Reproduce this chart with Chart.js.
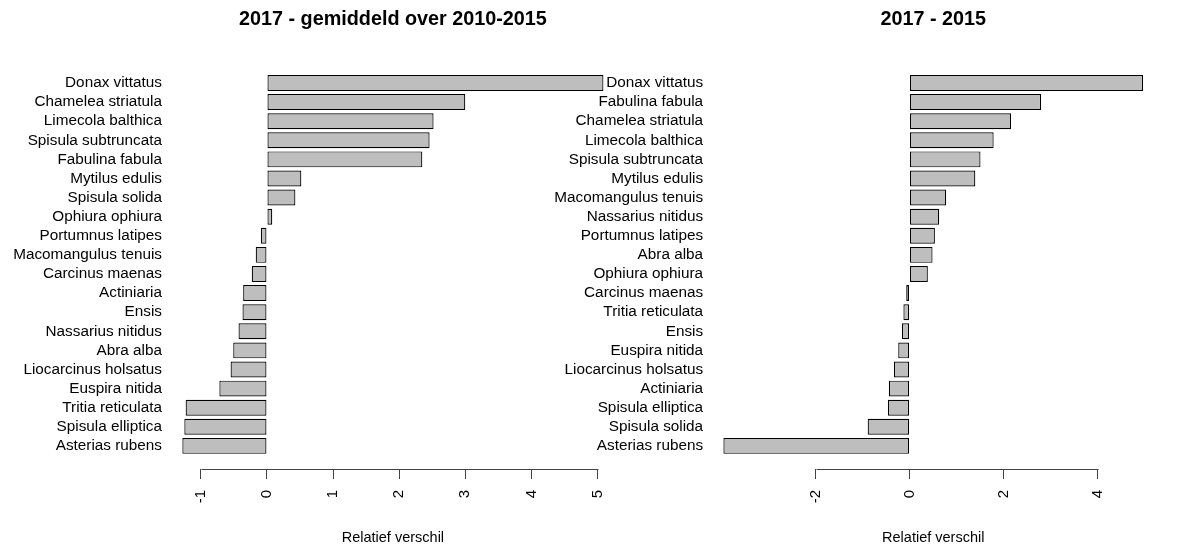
<!DOCTYPE html>
<html>
<head>
<meta charset="utf-8">
<script src="https://cdn.jsdelivr.net/npm/chart.js@4.4.1/dist/chart.umd.min.js"></script>
<style>
  html, body { margin: 0; background: #fff; }
  #wrap { position: relative; width: 1182px; height: 549px; }
  #wrap canvas { position: absolute; left: 0; top: 0; }
</style>
</head>
<body>
<div id="wrap">
  <canvas id="left" width="1182" height="549"></canvas>
  <canvas id="right" width="1182" height="549"></canvas>
</div>
<script>
// left panel: 2017 vs mean 2010-2015 (top to bottom)
const leftSpecies = [
  'Donax vittatus', 'Chamelea striatula', 'Limecola balthica', 'Spisula subtruncata',
  'Fabulina fabula', 'Mytilus edulis', 'Spisula solida', 'Ophiura ophiura',
  'Portumnus latipes', 'Macomangulus tenuis', 'Carcinus maenas', 'Actiniaria',
  'Ensis', 'Nassarius nitidus', 'Abra alba', 'Liocarcinus holsatus',
  'Euspira nitida', 'Tritia reticulata', 'Spisula elliptica', 'Asterias rubens'
];
const leftValues = [5.09, 3.0, 2.52, 2.46, 2.35, 0.52, 0.43, 0.08, -0.09, -0.17,
  -0.23, -0.36, -0.37, -0.43, -0.51, -0.55, -0.72, -1.23, -1.25, -1.28];
const leftTicks = [-1, 0, 1, 2, 3, 4, 5];

// right panel: 2017 vs 2015
const rightSpecies = [
  'Donax vittatus', 'Fabulina fabula', 'Chamelea striatula', 'Limecola balthica',
  'Spisula subtruncata', 'Mytilus edulis', 'Macomangulus tenuis', 'Nassarius nitidus',
  'Portumnus latipes', 'Abra alba', 'Ophiura ophiura', 'Carcinus maenas',
  'Tritia reticulata', 'Ensis', 'Euspira nitida', 'Liocarcinus holsatus',
  'Actiniaria', 'Spisula elliptica', 'Spisula solida', 'Asterias rubens'
];
const rightValues = [4.97, 2.80, 2.16, 1.79, 1.51, 1.40, 0.78, 0.63, 0.54, 0.49,
  0.39, -0.07, -0.13, -0.16, -0.24, -0.33, -0.44, -0.46, -0.89, -3.96];
const rightTicks = [-2, 0, 2, 4];

const FONT = "'Liberation Sans', Arial, sans-serif";

// R style axis line: only from first to last tick
const axisLine = {
  id: 'axisLine',
  afterDraw(chart) {
    const sx = chart.scales.x;
    const t = sx.ticks;
    const ctx = chart.ctx;
    const y = Math.round(sx.top) + 0.5;
    ctx.save();
    ctx.strokeStyle = '#444';
    ctx.lineWidth = 1;
    ctx.beginPath();
    ctx.moveTo(Math.round(sx.getPixelForValue(t[0].value)) + 0.5, y);
    ctx.lineTo(Math.round(sx.getPixelForValue(t[t.length - 1].value)) + 0.5, y);
    ctx.stroke();
    ctx.restore();
  }
};

function makeChart(id, title, labels, values, ticks, leftEdge, rightPad) {
  const lo = Math.min(0, ...values), hi = Math.max(0, ...values);
  const ext = 0.04 * (hi - lo);
  return new Chart(document.getElementById(id), {
    type: 'bar',
    data: {
      labels: labels,
      datasets: [{
        data: values,
        backgroundColor: '#bebebe',
        borderColor: '#000',
        borderWidth: 1.2,
        borderSkipped: false,
        barPercentage: 1 / 1.2,
        categoryPercentage: 1
      }]
    },
    options: {
      indexAxis: 'y',
      responsive: false,
      animation: false,
      devicePixelRatio: 1,
      layout: { padding: { left: 0, right: rightPad, top: 0, bottom: 0 } },
      plugins: {
        legend: { display: false },
        tooltip: { enabled: false },
        title: {
          display: true,
          text: title,
          fullSize: false,
          color: '#000',
          font: { family: FONT, size: 19.8, weight: 'bold' },
          padding: { top: 8, bottom: 28.1 }
        }
      },
      scales: {
        x: {
          type: 'linear',
          min: lo - ext,
          max: hi + ext,
          border: { display: false },
          grid: { drawOnChartArea: false, drawTicks: true, tickLength: 10, color: '#444' },
          ticks: {
            color: '#000',
            font: { family: FONT, size: 15 },
            minRotation: 90,
            maxRotation: 90,
            autoSkip: false,
            padding: 11
          },
          afterBuildTicks: s => { s.ticks = ticks.map(v => ({ value: v })); },
          afterFit: s => { s.height = 80; },
          title: {
            display: true,
            text: 'Relatief verschil',
            color: '#000',
            font: { family: FONT, size: 14.5 },
            padding: { top: 0, bottom: 2 }
          }
        },
        y: {
          type: 'category',
          border: { display: false },
          grid: { display: false, drawTicks: false },
          ticks: { color: '#000', font: { family: FONT, size: 15.3 }, padding: 3.5, autoSkip: false },
          // R barplot: space 0.2 between bars and 4% extra room at both ends
          afterBuildTicks: s => {
            const n = s.getLabels().length;
            const pad = (0.5 + 0.04 * (n * 1.2 - 0.2)) / 1.2;
            s._startValue = -pad;
            s._valueRange = n - 1 + 2 * pad;
          },
          afterFit: s => { s.width = leftEdge; }
        }
      }
    },
    plugins: [axisLine]
  });
}

makeChart('left', '2017 - gemiddeld over 2010-2015', leftSpecies, leftValues, leftTicks, 165.5, 561.7);
makeChart('right', '2017 - 2015', rightSpecies, rightValues, rightTicks, 706.6, 22.1);
</script>
</body>
</html>
